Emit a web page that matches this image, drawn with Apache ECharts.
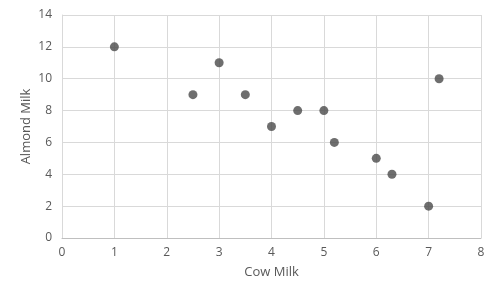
<!DOCTYPE html>
<html><head><meta charset="utf-8">
<script src="https://cdn.jsdelivr.net/npm/echarts@6/dist/echarts.min.js"></script>
<style>html,body{margin:0;padding:0;background:#fff}#c{width:500px;height:300px}</style>
</head><body><div id="c"></div>
<script>
const cowMilk = [1, 2.5, 3, 3.5, 4, 4.5, 5, 5.2, 6, 6.3, 7, 7.2];
const almondMilk = [12, 9, 11, 9, 7, 8, 8, 6, 5, 4, 2, 10];
const xTitle = 'Cow Milk';
const yTitle = 'Almond Milk';
const chart = echarts.init(document.getElementById('c'), null, {renderer: 'canvas'});
const font = '"Open Sans", sans-serif';
chart.setOption({
  animation: false,
  grid: {left: 62, right: 19, top: 15, bottom: 62},
  xAxis: {
    type: 'value', min: 0, max: 8, interval: 1,
    name: xTitle, nameLocation: 'middle', nameGap: 28, nameMoveOverlap: false,
    nameTextStyle: {color: '#595959', fontSize: 13, fontFamily: font},
    axisLine: {show: true, lineStyle: {color: '#bfbfbf', width: 1}},
    axisTick: {show: false},
    axisLabel: {color: '#595959', fontSize: 12, fontFamily: font, margin: 9},
    splitLine: {show: true, lineStyle: {color: '#d9d9d9', width: 1}}
  },
  yAxis: {
    type: 'value', min: 0, max: 14, interval: 2,
    name: yTitle, nameLocation: 'middle', nameGap: 29, nameMoveOverlap: false,
    nameTextStyle: {color: '#595959', fontSize: 13, fontFamily: font},
    axisLine: {show: true, lineStyle: {color: '#d9d9d9', width: 1}},
    axisTick: {show: false},
    axisLabel: {color: '#595959', fontSize: 12, fontFamily: font, margin: 10},
    splitLine: {show: true, lineStyle: {color: '#d9d9d9', width: 1}}
  },
  series: [{
    type: 'scatter',
    data: cowMilk.map((x, i) => [x, almondMilk[i]]),
    symbol: 'circle', symbolSize: 9,
    itemStyle: {color: '#4a4a4a'}
  }]
});
</script></body></html>
